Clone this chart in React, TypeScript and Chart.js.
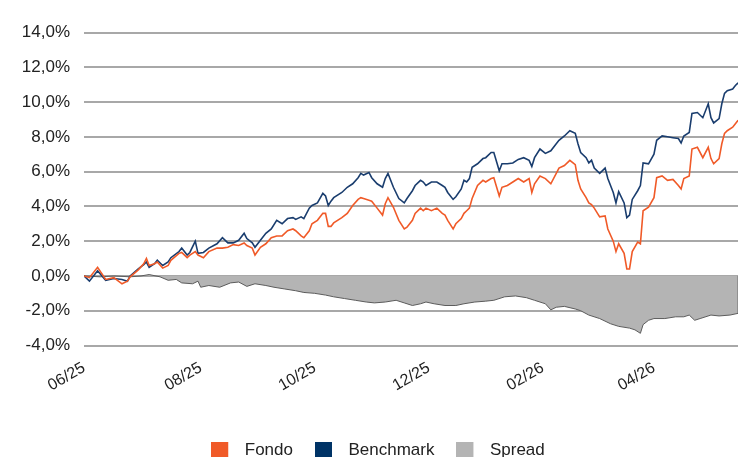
import React, { useEffect, useRef } from "react";
import { Chart, registerables } from "chart.js";

Chart.register(...registerables);

// Trading-day index (0 = start of period) for the Fondo / Benchmark readings
const tradingDays = [
  0, 2, 5, 8, 11, 14, 16, 17, 20, 22, 23, 24, 26, 27, 29, 31, 32, 35, 36, 38,
  39, 41, 42, 44, 46, 49, 51, 53, 55, 57, 59, 60, 62, 63, 65, 67, 69, 71, 73, 75,
  77, 78, 80, 81, 83, 84, 86, 88, 89, 90, 91, 92, 95, 97, 99, 101, 102, 103, 105, 106,
  108, 110, 111, 112, 114, 116, 118, 119, 121, 122, 124, 125, 126, 128, 130, 132, 133, 134, 136, 137,
  139, 140, 141, 142, 143, 145, 147, 148, 150, 151, 153, 154, 156, 158, 160, 162, 164, 165, 166, 168,
  170, 172, 174, 175, 177, 179, 181, 182, 183, 185, 186, 187, 188, 190, 192, 193, 195, 196, 197, 199,
  200, 201, 202, 204, 205, 206, 208, 210, 211, 213, 215, 217, 219, 220, 221, 223, 224, 226, 228, 230,
  231, 232, 234, 235, 236, 237, 239, 240, 241,
];

const benchmark = [
  0, -0.3, 0.3, -0.25, -0.15, -0.2, -0.3, 0, 0.4, 0.65, 0.8, 0.5, 0.7, 0.9, 0.6, 0.8, 1.05, 1.4, 1.6, 1.2,
  1.35, 2.0, 1.3, 1.35, 1.6, 1.85, 2.2, 1.9, 1.9, 2.05, 2.45, 2.15, 1.9, 1.65, 2.05, 2.45, 2.7, 3.2, 3.0, 3.3,
  3.35, 3.25, 3.4, 3.3, 3.9, 4.05, 4.2, 4.75, 4.6, 4.05, 4.3, 4.5, 4.8, 5.1, 5.3, 5.65, 5.9, 5.8, 5.95, 5.65,
  5.3, 5.1, 5.6, 5.9, 5.1, 4.45, 4.2, 4.45, 4.9, 5.2, 5.5, 5.4, 5.2, 5.4, 5.4, 5.2, 5.1, 4.8, 4.4, 4.55,
  5.0, 5.5, 5.4, 5.6, 6.25, 6.45, 6.75, 6.8, 7.1, 7.1, 6.05, 6.45, 6.45, 6.5, 6.7, 6.8, 6.65, 6.3, 6.8, 7.3,
  7.05, 7.2, 7.6, 7.8, 8.05, 8.35, 8.2, 7.6, 7.1, 6.8, 6.5, 6.65, 6.2, 5.9, 6.2, 5.6, 4.8, 4.2, 4.85, 4.2,
  3.35, 3.5, 4.4, 4.9, 5.2, 6.5, 6.45, 7.0, 7.8, 8.05, 8.0, 7.95, 7.9, 7.65, 8.05, 8.25, 9.35, 9.4, 9.1, 9.9,
  9.1, 8.8, 9.05, 9.9, 10.5, 10.65, 10.75, 10.95, 11.1,
];

const fondo = [
  0, -0.1, 0.5, -0.2, -0.1, -0.45, -0.3, -0.05, 0.35, 0.7, 1.0, 0.6, 0.7, 0.8, 0.45, 0.6, 0.9, 1.3, 1.35, 1.05,
  1.2, 1.4, 1.2, 1.05, 1.4, 1.6, 1.6, 1.65, 1.8, 1.75, 1.9, 1.75, 1.6, 1.2, 1.65, 1.85, 2.2, 2.3, 2.3, 2.6,
  2.7, 2.6, 2.3, 2.2, 2.6, 3.0, 3.2, 3.6, 3.6, 2.85, 2.85, 3.05, 3.35, 3.6, 4.05, 4.4, 4.5, 4.45, 4.35, 4.3,
  3.9, 3.5, 4.15, 4.5, 3.95, 3.2, 2.7, 2.8, 3.2, 3.6, 3.9, 3.75, 3.9, 3.75, 3.9, 3.6, 3.5, 3.2, 2.7, 3.0,
  3.3, 3.6, 3.75, 3.9, 4.45, 5.2, 5.5, 5.4, 5.6, 5.65, 4.6, 5.1, 5.2, 5.4, 5.6, 5.4, 5.6, 4.8, 5.3, 5.75,
  5.6, 5.3, 5.9, 6.2, 6.35, 6.65, 6.4, 5.5, 5.0, 4.5, 4.2, 4.1, 3.9, 3.4, 3.45, 2.7, 2.0, 1.4, 1.85, 1.3,
  0.4, 0.4, 1.4, 1.95, 1.85, 3.75, 3.95, 4.5, 5.65, 5.75, 5.5, 5.55, 5.2, 5.0, 5.6, 5.75, 7.3, 7.4, 6.8, 7.4,
  6.75, 6.45, 6.75, 7.6, 8.2, 8.35, 8.55, 8.75, 8.95,
];

const spreadDays = [
  0, 6, 11, 17, 21, 24, 28, 31, 34, 36, 40, 42, 43, 46, 50, 54, 57, 60, 63, 67,
  70, 74, 78, 81, 85, 89, 92, 96, 100, 104, 107, 111, 115, 118, 121, 124, 126, 129, 133, 137,
  140, 144, 148, 151, 155, 159, 163, 166, 170, 172, 174, 177, 181, 183, 186, 190, 194, 197, 201, 203,
  205, 206, 208, 210, 214, 218, 221, 223, 225, 227, 231, 234, 238, 241,
];

const spread = [
  0, -0.05, 0, -0.05, 0, 0.08, -0.05, -0.25, -0.2, -0.4, -0.45, -0.3, -0.65, -0.55, -0.65, -0.4, -0.35, -0.6, -0.45, -0.55,
  -0.65, -0.75, -0.85, -0.95, -1.0, -1.1, -1.2, -1.3, -1.4, -1.5, -1.55, -1.5, -1.4, -1.55, -1.7, -1.6, -1.5, -1.6, -1.7, -1.7,
  -1.6, -1.5, -1.45, -1.4, -1.2, -1.15, -1.25, -1.4, -1.6, -1.95, -1.8, -1.75, -1.9, -2.0, -2.25, -2.45, -2.75, -2.9, -3.0, -3.1,
  -3.3, -2.8, -2.55, -2.45, -2.45, -2.35, -2.35, -2.25, -2.55, -2.45, -2.25, -2.3, -2.25, -2.15,
];

const tickDays = [0, 43, 85, 127, 169, 210];
const tickLabels = ["06/25", "08/25", "10/25", "12/25", "02/26", "04/26"];
const seriesNames = ["Fondo", "Benchmark", "Spread"];
const legendColors = ["#f05a28", "#003366", "#b4b4b4"];

const FONT = '"Liberation Sans", Arial, Helvetica, sans-serif';

function swatch(color: string) {
  const c = document.createElement("canvas");
  c.width = 25;
  c.height = 17;
  const g = c.getContext("2d")!;
  g.fillStyle = color;
  g.fillRect(0, 0, 17, 17);
  return c;
}

// closes the spread area at its last point with a vertical edge
const areaEdge = {
  id: "areaEdge",
  afterDatasetsDraw(chart: any) {
    const meta = chart.getDatasetMeta(2);
    const pts = meta.data;
    if (!pts || !pts.length) return;
    const last = pts[pts.length - 1];
    const y0 = chart.scales.y.getPixelForValue(0);
    const ctx = chart.ctx;
    ctx.save();
    ctx.strokeStyle = "#5c5c5c";
    ctx.lineWidth = 1;
    ctx.beginPath();
    ctx.moveTo(last.x, y0);
    ctx.lineTo(last.x, last.y);
    ctx.stroke();
    ctx.restore();
  },
};

export default function App() {
  const ref = useRef<HTMLCanvasElement | null>(null);

  useEffect(() => {
    if (!ref.current) return;
    const swatches = legendColors.map(swatch);
    const chart = new Chart(ref.current, {
      type: "line",
      data: {
        datasets: [
          {
            label: seriesNames[0],
            data: tradingDays.map((d, i) => ({ x: d, y: fondo[i] })),
            borderColor: "#f05a28",
            borderWidth: 1.6,
            pointRadius: 0,
            tension: 0,
            fill: false,
          },
          {
            label: seriesNames[1],
            data: tradingDays.map((d, i) => ({ x: d, y: benchmark[i] })),
            borderColor: "#1a3d6e",
            borderWidth: 1.6,
            pointRadius: 0,
            tension: 0,
            fill: false,
          },
          {
            label: seriesNames[2],
            data: spreadDays.map((d, i) => ({ x: d, y: spread[i] })),
            borderColor: "#5c5c5c",
            backgroundColor: "#b4b4b4",
            borderWidth: 1,
            pointRadius: 0,
            tension: 0,
            fill: "origin",
          },
        ],
      },
      plugins: [areaEdge],
      options: {
        responsive: false,
        animation: false,
        events: [],
        layout: { padding: { top: 25.5, right: 2, bottom: 18, left: 8 } },
        plugins: {
          tooltip: { enabled: false },
          legend: {
            position: "bottom",
            labels: {
              usePointStyle: true,
              pointStyleWidth: 25,
              padding: 22,
              color: "#222",
              font: { family: FONT, size: 17 },
              generateLabels: (ch: any) =>
                ch.data.datasets.map((ds: any, i: number) => ({
                  text: ds.label,
                  fillStyle: legendColors[i],
                  strokeStyle: legendColors[i],
                  lineWidth: 0,
                  hidden: false,
                  datasetIndex: i,
                  pointStyle: swatches[i],
                  fontColor: "#222",
                })),
            },
          },
        },
        scales: {
          x: {
            type: "linear",
            min: 0,
            max: 241.7,
            grid: { display: false, drawTicks: false },
            border: { display: false },
            afterBuildTicks: (s: any) => {
              s.ticks = tickDays.map((v) => ({ value: v }));
            },
            afterFit: (s: any) => {
              s.height = 74.5;
            },
            ticks: {
              autoSkip: false,
              minRotation: 30,
              maxRotation: 30,
              padding: 13,
              color: "#222",
              font: { family: FONT, size: 16 },
              callback: (_v: any, i: number) => tickLabels[i],
            },
          },
          y: {
            min: -4,
            max: 14,
            grid: { color: "#a8a8a8", lineWidth: 2, drawTicks: false },
            border: { display: false },
            afterFit: (s: any) => {
              s.width = 68;
            },
            ticks: {
              stepSize: 2,
              padding: 14,
              color: "#222",
              font: { family: FONT, size: 17 },
              callback: (v: any) => Number(v).toFixed(1).replace(".", ",") + "%",
            },
          },
        },
      },
    });
    return () => chart.destroy();
  }, []);

  return (
    <div style={{ marginTop: -8, width: 734 }}>
      <div style={{ height: 7, background: "#939393" }} />
      <canvas ref={ref} width={734} height={480} style={{ display: "block" }} />
    </div>
  );
}
